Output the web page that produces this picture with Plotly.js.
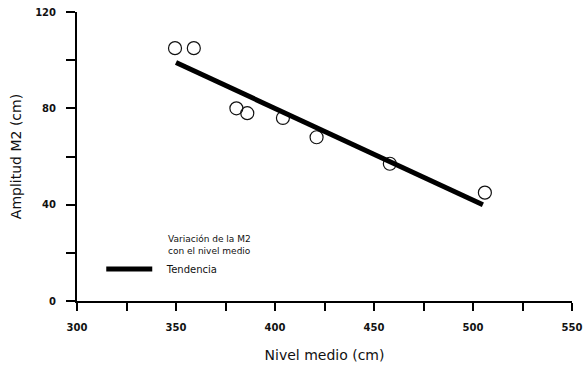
<!DOCTYPE html>
<html>
<head>
<meta charset="utf-8">
<script src="https://cdn.plot.ly/plotly-3.0.1.min.js"></script>
<style>
  html, body { margin: 0; padding: 0; background: #fff; }
  #chart { width: 585px; height: 375px; }
</style>
</head>
<body>
<div id="chart"></div>
<script>
// Observed M2 amplitude against mean sea level
const nivelMedio = [349.5, 359, 380.5, 386, 404, 421, 458, 506];
const amplitudM2 = [105, 105, 80, 78, 76, 68, 57, 45];

// Fitted trend line end points
const tendenciaX = [350, 505];
const tendenciaY = [99, 40];

// Axis ticks
const xTickVals = [300, 325, 350, 375, 400, 425, 450, 475, 500, 525, 550];
const xTickText = ['300', '', '350', '', '400', '', '450', '', '500', '', '550'];
const yTickVals = [0, 20, 40, 60, 80, 100, 120];
const yTickText = ['0', '', '40', '', '80', '', '120'];

const font = 'DejaVu Sans, Verdana, sans-serif';
const gap = '\u00a0\u00a0\u00a0';

const traces = [
  {
    x: nivelMedio,
    y: amplitudM2,
    type: 'scatter',
    mode: 'markers',
    marker: { symbol: 'circle-open', size: 13, color: '#111', line: { width: 1.2, color: '#111' } },
    showlegend: false,
    hoverinfo: 'x+y'
  },
  {
    x: tendenciaX,
    y: tendenciaY,
    type: 'scatter',
    mode: 'lines',
    name: gap + 'Tendencia',
    line: { color: '#000', width: 5 }
  }
];

const layout = {
  width: 585,
  height: 375,
  margin: { l: 77, r: 13, t: 12, b: 74 },
  paper_bgcolor: '#fff',
  plot_bgcolor: '#fff',
  font: { family: font, color: '#111', size: 9 },
  xaxis: {
    range: [300, 550],
    tickvals: xTickVals,
    ticktext: xTickText,
    ticks: 'outside',
    ticklen: 8,
    tickwidth: 2,
    tickcolor: '#000',
    showline: true,
    linewidth: 2,
    linecolor: '#000',
    showgrid: false,
    zeroline: false,
    ticklabelstandoff: 8,
    tickfont: { family: font, size: 10, color: '#111', weight: 'bold' },
    title: { text: 'Nivel medio (cm)', font: { family: font, size: 14, color: '#111' }, standoff: 18 }
  },
  yaxis: {
    range: [0, 120],
    tickvals: yTickVals,
    ticktext: yTickText,
    ticks: 'outside',
    ticklen: 9,
    tickwidth: 2,
    tickcolor: '#000',
    showline: true,
    linewidth: 2,
    linecolor: '#000',
    showgrid: false,
    zeroline: false,
    ticklabelstandoff: 8,
    tickfont: { family: font, size: 10, color: '#111', weight: 'bold' },
    title: { text: 'Amplitud M2 (cm)', font: { family: font, size: 14, color: '#111' }, standoff: 10 }
  },
  showlegend: true,
  legend: {
    x: 0.049,
    y: 0.111,
    xanchor: 'left',
    yanchor: 'middle',
    bgcolor: 'rgba(0,0,0,0)',
    itemwidth: 46,
    font: { family: font, size: 10, color: '#111' }
  },
  annotations: [
    {
      xref: 'paper', yref: 'paper',
      x: 0.18, y: 0.194,
      xanchor: 'left', yanchor: 'middle',
      align: 'left',
      showarrow: false,
      text: 'Variación de la M2<br>con el nivel medio',
      font: { family: font, size: 9, color: '#111' }
    }
  ]
};

Plotly.newPlot('chart', traces, layout, { displayModeBar: false, staticPlot: true });
</script>
</body>
</html>
